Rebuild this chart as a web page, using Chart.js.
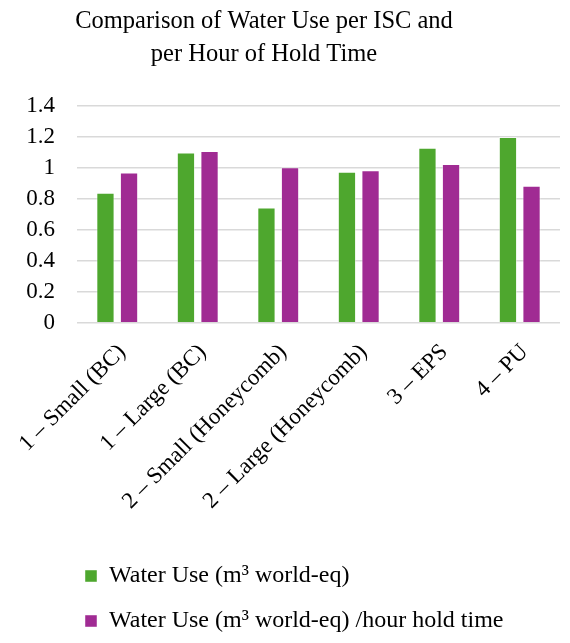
<!DOCTYPE html>
<html>
<head>
<meta charset="utf-8">
<script src="https://cdn.jsdelivr.net/npm/chart.js@4"></script>
<style>
  html, body { margin: 0; padding: 0; background: #fff; }
  #wrap { width: 570px; height: 643px; position: relative; }
</style>
</head>
<body>
<div id="wrap"><canvas id="waterChart"></canvas></div>
<script>
// Containers compared
const categories = [
    "1 \u2013 Small (BC)",
    "1 \u2013 Large (BC)",
    "2 \u2013 Small (Honeycomb)",
    "2 \u2013 Large (Honeycomb)",
    "3 \u2013 EPS",
    "4 \u2013 PU"
];

// Water use per container and normalised by hold time
const waterUse = [0.84, 1.10, 0.745, 0.975, 1.13, 1.20];
const waterUsePerHour = [0.97, 1.11, 1.005, 0.985, 1.025, 0.885];

const seriesNames = [
    "Water Use (m\u00b3 world-eq)",
    "Water Use (m\u00b3 world-eq) /hour hold time"
];

const titleLines = ["Comparison of Water Use per ISC and", "per Hour of Hold Time"];

const serif = "'Liberation Serif', 'Times New Roman', serif";

// two-line heading drawn a little left of the canvas centre
const headingPlugin = {
    id: 'heading',
    afterDraw(chart) {
        const c = chart.ctx;
        c.save();
        c.fillStyle = '#000';
        c.font = "24.5px " + serif;
        c.textAlign = 'center';
        c.textBaseline = 'alphabetic';
        titleLines.forEach((line, i) => c.fillText(line, 264, 28 + i * 33));
        c.restore();
    }
};

// legend sits indented, not flush with the canvas edge
const legendIndent = {
    id: 'legendIndent',
    afterLayout(chart) {
        chart.legend.left = 64;
    }
};

const ctx = document.getElementById('waterChart').getContext('2d');
const waterChart = new Chart(ctx, {
    type: 'bar',
    data: {
        labels: categories,
        datasets: [{
            label: seriesNames[0],
            data: waterUse,
            backgroundColor: '#4EA72E',
            borderColor: 'rgba(255,255,255,0.45)',
            borderWidth: 1
        },
        {
            label: seriesNames[1],
            data: waterUsePerHour,
            backgroundColor: '#A02B93',
            borderColor: 'rgba(255,255,255,0.45)',
            borderWidth: 1
        }]
    },
    plugins: [headingPlugin, legendIndent],
    options: {
        responsive: true,
        maintainAspectRatio: false,
        animation: false,
        categoryPercentage: 0.586,
        barPercentage: 0.775,
        layout: {
            padding: { left: 26, right: 10, top: 106, bottom: 0 }
        },
        plugins: {
            title: { display: false },
            legend: {
                position: 'bottom',
                align: 'start',
                labels: {
                    color: '#000',
                    boxWidth: 12,
                    boxHeight: 12,
                    padding: 21,
                    font: { family: serif, size: 24 }
                }
            },
            tooltip: { enabled: false }
        },
        scales: {
            x: {
                grid: { display: false },
                border: { display: false },
                afterFit(scale) { scale.height += 20; },
                ticks: {
                    color: '#000',
                    maxRotation: 45,
                    minRotation: 45,
                    autoSkip: false,
                    padding: 8,
                    labelOffset: 5,
                    font: { family: serif, size: 23 }
                }
            },
            y: {
                min: 0,
                max: 1.4,
                border: { display: false },
                grid: { color: '#d9d9d9', lineWidth: 1.5, drawTicks: false },
                afterFit(scale) { scale.width = 51; },
                ticks: {
                    stepSize: 0.2,
                    color: '#000',
                    padding: 22,
                    font: { family: serif, size: 23 },
                    callback: value => String(+value.toFixed(1))
                }
            }
        }
    }
});
</script>
</body>
</html>
